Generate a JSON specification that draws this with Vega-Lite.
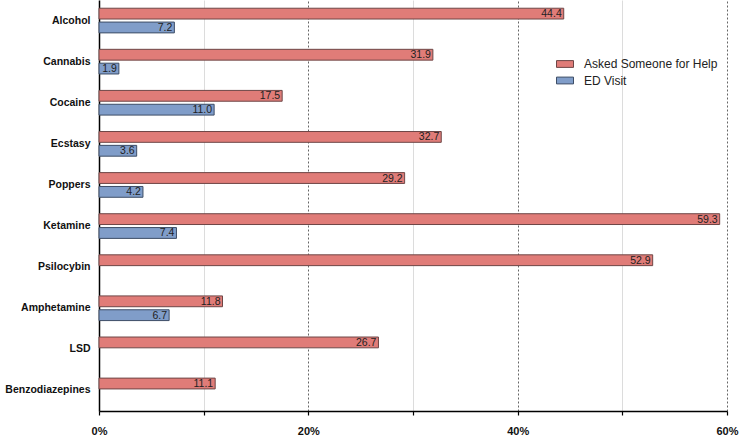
{
  "$schema": "https://vega.github.io/schema/vega-lite/v6.json",
  "autosize": "none",
  "width": 628,
  "height": 411,
  "padding": {"left": 99, "top": 0, "right": 13, "bottom": 27},
  "background": "white",
  "config": {
    "view": {"stroke": null},
    "font": "Liberation Sans"
  },
  "data": {
    "values": [
      {"drug": "Alcohol", "series": "Asked Someone for Help", "value": 44.4},
      {"drug": "Alcohol", "series": "ED Visit", "value": 7.2},
      {"drug": "Cannabis", "series": "Asked Someone for Help", "value": 31.9},
      {"drug": "Cannabis", "series": "ED Visit", "value": 1.9},
      {"drug": "Cocaine", "series": "Asked Someone for Help", "value": 17.5},
      {"drug": "Cocaine", "series": "ED Visit", "value": 11.0},
      {"drug": "Ecstasy", "series": "Asked Someone for Help", "value": 32.7},
      {"drug": "Ecstasy", "series": "ED Visit", "value": 3.6},
      {"drug": "Poppers", "series": "Asked Someone for Help", "value": 29.2},
      {"drug": "Poppers", "series": "ED Visit", "value": 4.2},
      {"drug": "Ketamine", "series": "Asked Someone for Help", "value": 59.3},
      {"drug": "Ketamine", "series": "ED Visit", "value": 7.4},
      {"drug": "Psilocybin", "series": "Asked Someone for Help", "value": 52.9},
      {"drug": "Amphetamine", "series": "Asked Someone for Help", "value": 11.8},
      {"drug": "Amphetamine", "series": "ED Visit", "value": 6.7},
      {"drug": "LSD", "series": "Asked Someone for Help", "value": 26.7},
      {"drug": "Benzodiazepines", "series": "Asked Someone for Help", "value": 11.1}
    ]
  },
  "encoding": {
    "y": {
      "field": "drug",
      "type": "nominal",
      "sort": ["Alcohol", "Cannabis", "Cocaine", "Ecstasy", "Poppers", "Ketamine", "Psilocybin", "Amphetamine", "LSD", "Benzodiazepines"],
      "scale": {"paddingInner": 0.4, "paddingOuter": 0.2},
      "axis": {
        "title": null,
        "domainColor": "#000",
        "domainWidth": 1.5,
        "ticks": false,
        "labelFont": "Liberation Sans",
        "labelFontWeight": "bold",
        "labelFontSize": 10.5,
        "labelColor": "#111",
        "labelPadding": 9,
        "labelLimit": 200
      }
    },
    "yOffset": {
      "field": "series",
      "type": "nominal",
      "sort": ["Asked Someone for Help", "ED Visit"],
      "scale": {"domain": ["Asked Someone for Help", "ED Visit"], "paddingInner": 0.22, "paddingOuter": 0}
    },
    "x": {
      "field": "value",
      "type": "quantitative",
      "scale": {"domain": [0, 60], "nice": false},
      "axis": {
        "title": null,
        "values": [0, 10, 20, 30, 40, 50, 60],
        "labelExpr": "datum.value % 20 === 0 ? datum.value + '%' : ''",
        "labelFlush": false,
        "labelFont": "Liberation Sans",
        "labelFontWeight": "bold",
        "labelFontSize": 11,
        "labelColor": "#111",
        "labelPadding": 10,
        "domainColor": "#000",
        "domainWidth": 1.5,
        "tickColor": "#000",
        "tickSize": 4,
        "tickWidth": 1.2,
        "grid": true,
        "gridColor": {"condition": {"test": "datum.value % 20 === 0", "value": "#666"}, "value": "#dcdcdc"},
        "gridDash": {"condition": {"test": "datum.value % 20 === 0", "value": [2, 2]}, "value": []},
        "gridWidth": 1
      }
    }
  },
  "layer": [
    {
      "mark": {"type": "bar", "strokeWidth": 1},
      "encoding": {
        "color": {
          "field": "series",
          "type": "nominal",
          "scale": {"domain": ["Asked Someone for Help", "ED Visit"], "range": ["#e07c78", "#809dc9"]},
          "legend": {
            "title": null,
            "orient": "none",
            "legendX": 457,
            "legendY": 55,
            "symbolType": "M-1,-0.4L1,-0.4L1,0.4L-1,0.4Z",
            "symbolSize": 289,
            "symbolStrokeWidth": 1,
            "symbolStrokeColor": "#555",
            "labelFont": "Liberation Sans",
            "labelFontSize": 12,
            "labelColor": "#222",
            "rowPadding": 1.5,
            "labelOffset": 10
          }
        },
        "stroke": {
          "field": "series",
          "type": "nominal",
          "scale": {"domain": ["Asked Someone for Help", "ED Visit"], "range": ["#6e4646", "#3d4d66"]},
          "legend": null
        }
      }
    },
    {
      "mark": {"type": "text", "align": "right", "baseline": "middle", "dx": -2, "dy": 0.5, "fontSize": 10.5, "color": "#222", "font": "Liberation Sans"},
      "encoding": {
        "text": {"field": "value", "type": "quantitative", "format": ".1f"}
      }
    }
  ]
}
